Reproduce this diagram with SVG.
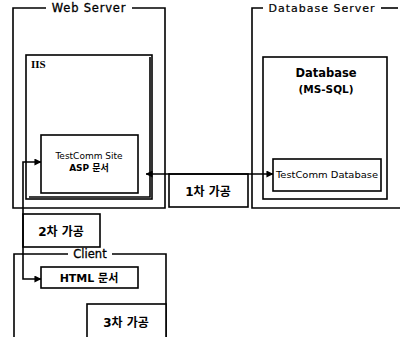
<svg xmlns="http://www.w3.org/2000/svg" width="400" height="337" viewBox="0 0 400 337">
<style>
.b{fill:#fff;stroke:#000;stroke-width:1.6}
.f{fill:none;stroke:#000;stroke-width:1.6}
.t{font-family:"DejaVu Sans","Noto Sans CJK KR",sans-serif;fill:#000}
.k{font-family:"DejaVu Sans","Noto Sans CJK KR",sans-serif;font-weight:bold;fill:#000}
</style>
<defs>
<marker id="ah" viewBox="0 0 8 8" refX="7.5" refY="4" markerWidth="7" markerHeight="7" markerUnits="userSpaceOnUse" orient="auto-start-reverse">
<path d="M0,0 L8,4 L0,8 z" fill="#000"/>
</marker>
</defs>
<rect width="400" height="337" fill="#fff"/>
<g id="web-server">
<path class="f" d="M46,8 H13 V208 H165 V8 H132"/>
<text class="t" x="89" y="12" font-size="11.5" text-anchor="middle" letter-spacing="0.8" stroke="#000" stroke-width="0.3">Web Server</text>
</g>
<g id="db-server">
<path class="f" d="M263,8 H252 V208 H401"/>
<path class="f" d="M381,8 H398"/>
<text class="t" x="322" y="12" font-size="11" text-anchor="middle" letter-spacing="1" stroke="#000" stroke-width="0.2">Database Server</text>
</g>
<g id="iis">
<rect class="b" x="26" y="55" width="126" height="144"/>
<path class="f" d="M29,197 H150 V57" stroke-width="1.2"/>
<text x="31" y="68" font-family="Liberation Serif,serif" font-weight="bold" font-size="11">IIS</text>
</g>
<g id="testcomm-site">
<rect class="b" x="41" y="135" width="97" height="58"/>
<text class="t" x="89" y="159" font-size="9" text-anchor="middle">TestComm Site</text>
<text class="k" x="89" y="171" font-size="9" text-anchor="middle">ASP 문서</text>
</g>
<g id="database">
<rect class="b" x="263" y="57" width="124" height="142"/>
<text class="k" x="326" y="77" font-size="11.5" text-anchor="middle">Database</text>
<text class="k" x="326" y="93" font-size="10.5" text-anchor="middle">(MS-SQL)</text>
</g>
<g id="testcomm-db">
<rect class="b" x="273" y="159" width="108" height="32"/>
<text class="t" x="327" y="178" font-size="8.5" text-anchor="middle" textLength="102" lengthAdjust="spacingAndGlyphs">TestComm Database</text>
</g>
<g id="step1">
<rect class="b" x="169" y="174" width="79" height="33"/>
<text class="k" x="208" y="196" font-size="12" text-anchor="middle">1차 가공</text>
</g>
<g id="step2">
<rect class="b" x="23" y="214" width="77" height="33"/>
<text class="k" x="61" y="236" font-size="12" text-anchor="middle">2차 가공</text>
</g>
<g id="client">
<path class="f" d="M68,254 H14 V338"/>
<path class="f" d="M112,254 H166 V338"/>
<text class="t" x="90" y="258" font-size="11.5" text-anchor="middle" stroke="#000" stroke-width="0.3">Client</text>
</g>
<g id="html-doc">
<rect class="b" x="41" y="267" width="97" height="21"/>
<text class="k" x="89" y="282" font-size="11" text-anchor="middle">HTML 문서</text>
</g>
<g id="step3">
<rect class="b" x="87" y="304" width="79" height="36"/>
<text class="k" x="126" y="327" font-size="12" text-anchor="middle">3차 가공</text>
</g>
<g id="connectors">
<path class="f" d="M146,174 H273" marker-start="url(#ah)" marker-end="url(#ah)"/>
<path class="f" d="M41,162 H23 V279 H41" marker-start="url(#ah)" marker-end="url(#ah)"/>
</g>
</svg>
